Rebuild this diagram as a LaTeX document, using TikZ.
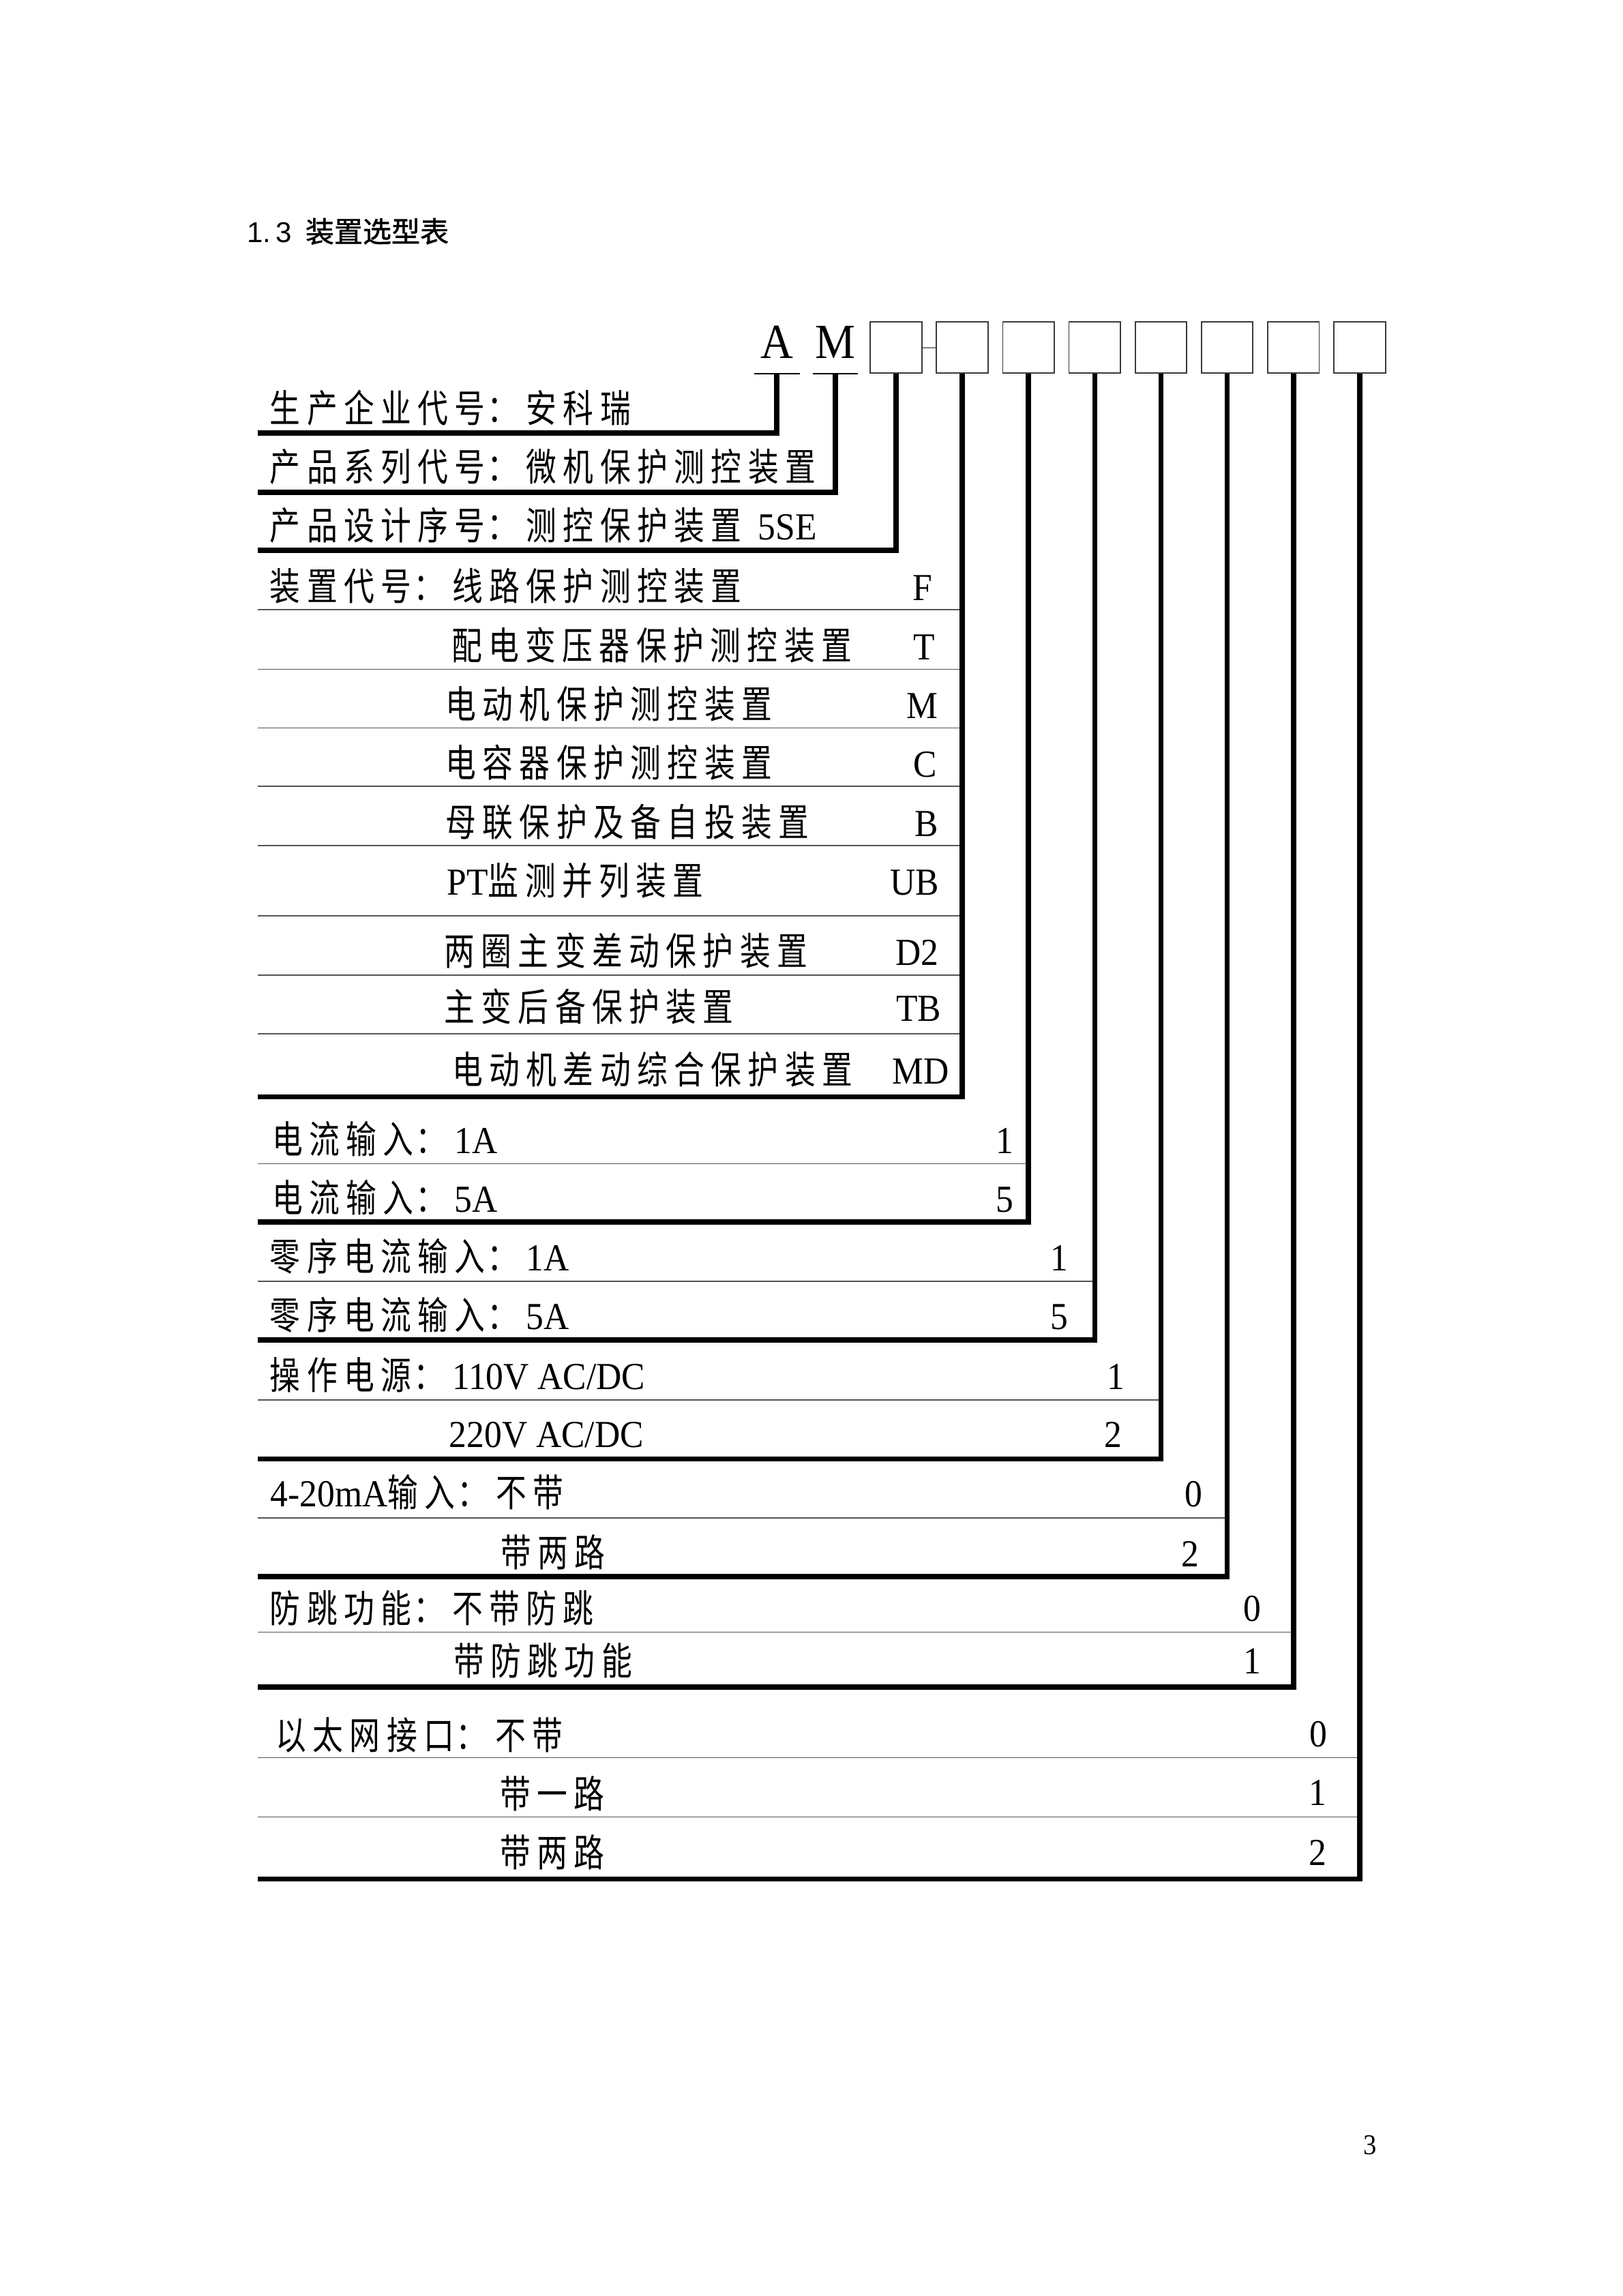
\documentclass[tikz,border=0pt]{standalone}
\usepackage{fontspec}
\setmainfont[FakeStretch=0.92]{Liberation Serif}
\setsansfont{Liberation Sans}
\newfontfamily\cjk[FakeStretch=0.8,LetterSpace=16.8]{Noto Sans CJK SC}
\newfontfamily\cjkhead[FakeBold=1.2]{Noto Sans CJK SC}
\usepackage{tikz}
\usetikzlibrary{positioning}
\definecolor{rulegrey}{HTML}{555555}
\definecolor{boxgrey}{HTML}{3A3A3A}
\newcommand{\zh}[1]{{\cjk\fontsize{14}{16}\selectfont #1}}
\newcommand{\zhcolon}{\hspace{0.7pt}\zh{：}\hspace{3.1pt}}
\tikzset{
  code box/.style    = {draw=boxgrey, line width=0.45pt, minimum size=18.9pt,
                        inner sep=0pt},
  code letter/.style = {font=\fontsize{18}{20}\selectfont, anchor=base,
                        inner sep=0pt, minimum width=16.3pt, text depth=5.5pt},
  letter rule/.style = {black, line width=0.45pt},
  lead/.style        = {black, line width=1.9pt},
  rule/.style        = {rulegrey, line width=0.35pt},
  box link/.style    = {black!50, line width=0.5pt},
  item text/.style   = {anchor=base west, inner sep=0pt,
                        font=\fontsize{14}{16}\selectfont},
  code mark/.style   = {anchor=base east, inner sep=0pt,
                        font=\fontsize{14}{16}\selectfont},
  code digit/.style  = {anchor=base, inner sep=0pt,
                        font=\fontsize{14}{16}\selectfont},
}
\begin{document}
\begin{tikzpicture}[x=0.5368pt, y=-0.5368pt]
    \useasboundingbox (0,0) rectangle (1108,1568);
    \node[anchor=base west, inner sep=0pt, font=\fontsize{10.5}{12}\selectfont]
      (heading) at (168.5,165.4) {\sffamily 1.\,3\hspace{5pt}{\cjkhead 装置选型表}};

    % model code: A M and eight boxes
    \node[code letter] (A) at (530.5,244.5) {A};
    \node[code letter] (M) at (570.5,244.5) {M};
    \draw[letter rule] (A.south west) -- (A.south east);
    \draw[letter rule] (M.south west) -- (M.south east);
    \foreach \i in {1,...,8}
      \node[code box] (b\i) at ({611.9+(\i-1)*45.23},237.3) {};
    \draw[box link] (b1) -- (b2);

    % thin rules inside each group
    \foreach \b/\y in {b2/416.4, b2/457, b2/497, b2/537, b2/577.5, b2/625.5,
                       b2/666, b2/706, b3/794.6, b4/875, b5/956, b6/1036.7,
                       b7/1114.6, b8/1200.3, b8/1240.8}
      \draw[rule] (176.2,\y) -- (\b.south |- 0,\y);

    % leads from the code down and to the left
    \foreach \b/\y in {A/295.7, M/336.1, b1/375.7, b2/749, b3/834.6, b4/915,
                       b5/996.3, b6/1076.7, b7/1152, b8/1283.2} {
      \coordinate (\b end) at (176.2,\y);
      \draw[lead] (\b.south) |- (\b end);
    }

    % maker, series, design
    \node[item text] (r1) at (184,288.5) {\zh{生产企业代号}\zhcolon\zh{安科瑞}};
    \node[item text] (r2) at (184,328.5) {\zh{产品系列代号}\zhcolon\zh{微机保护测控装置}};
    \node[item text] (r3) at (184,368.5) {\zh{产品设计序号}\zhcolon\zh{测控保护装置}\hspace{6pt}5SE};

    % device code
    \node[item text] (d1) at (184,410) {\zh{装置代号}\zhcolon\zh{线路保护测控装置}};
    \node[item text] (d2) at (308,450.5) {\zh{配电变压器保护测控装置}};
    \node[item text] (d3) at (304,490.5) {\zh{电动机保护测控装置}};
    \node[item text] (d4) at (304,530.5) {\zh{电容器保护测控装置}};
    \node[item text] (d5) at (304,571) {\zh{母联保护及备自投装置}};
    \node[item text] (d6) at (305,611) {PT\zh{监测并列装置}};
    \node[item text] (d7) at (303,659) {\zh{两圈主变差动保护装置}};
    \node[item text] (d8) at (303,697.5) {\zh{主变后备保护装置}};
    \node[item text] (d9) at (308.5,740) {\zh{电动机差动综合保护装置}};
    \node[code mark] (d1 code) at (637,410) {F};
    \node[code mark] (d2 code) at (639,450.5) {T};
    \node[code mark] (d3 code) at (641,490.5) {M};
    \node[code mark] (d4 code) at (640,530.5) {C};
    \node[code mark] (d5 code) at (641,571) {B};
    \node[code mark] (d6 code) at (641.5,611) {UB};
    \node[code mark] (d7 code) at (641.5,659) {D2};
    \node[code mark] (d8 code) at (643,697.5) {TB};
    \node[code mark] (d9 code) at (648.4,740) {MD};

    % current inputs
    \node[item text] (c1) at (185.5,787.6) {\zh{电流输入}\zhcolon 1A};
    \node[item text] (c2) at (185.5,827.7) {\zh{电流输入}\zhcolon 5A};
    \node[code digit] (c1 code) at (686,787.6) {1};
    \node[code digit] (c2 code) at (686,827.7) {5};
    \node[item text] (z1) at (184,868) {\zh{零序电流输入}\zhcolon 1A};
    \node[item text] (z2) at (184,908) {\zh{零序电流输入}\zhcolon 5A};
    \node[code digit] (z1 code) at (723.3,868) {1};
    \node[code digit] (z2 code) at (723.3,908) {5};

    % supply and options
    \node[item text] (p1) at (184,948.8) {\zh{操作电源}\zhcolon 110V AC/DC};
    \node[item text] (p2) at (306.5,988.2) {220V AC/DC};
    \node[code digit] (p1 code) at (762,948.8) {1};
    \node[code digit] (p2 code) at (760,988.2) {2};
    \node[item text] (m1) at (184.5,1028.8) {4-20mA\zh{输入}\zhcolon\zh{不带}};
    \node[item text] (m2) at (341.5,1070) {\zh{带两路}};
    \node[code digit] (m1 code) at (815,1028.8) {0};
    \node[code digit] (m2 code) at (813,1070) {2};
    \node[item text] (j1) at (184,1108) {\zh{防跳功能}\zhcolon\zh{不带防跳}};
    \node[item text] (j2) at (309.5,1144) {\zh{带防跳功能}};
    \node[code digit] (j1 code) at (855,1107) {0};
    \node[code digit] (j2 code) at (855,1143) {1};
    \node[item text] (n1) at (188,1194.5) {\zh{以太网接口}\zhcolon\zh{不带}};
    \node[item text] (n2) at (341,1235) {\zh{带一路}};
    \node[item text] (n3) at (341,1274.8) {\zh{带两路}};
    \node[code digit] (n1 code) at (900.5,1193) {0};
    \node[code digit] (n2 code) at (900,1233) {1};
    \node[code digit] (n3 code) at (900,1274) {2};

    \node[code digit, font=\fontsize{10.5}{12}\selectfont] (page) at (935.5,1471.3) {3};
\end{tikzpicture}
\end{document}
